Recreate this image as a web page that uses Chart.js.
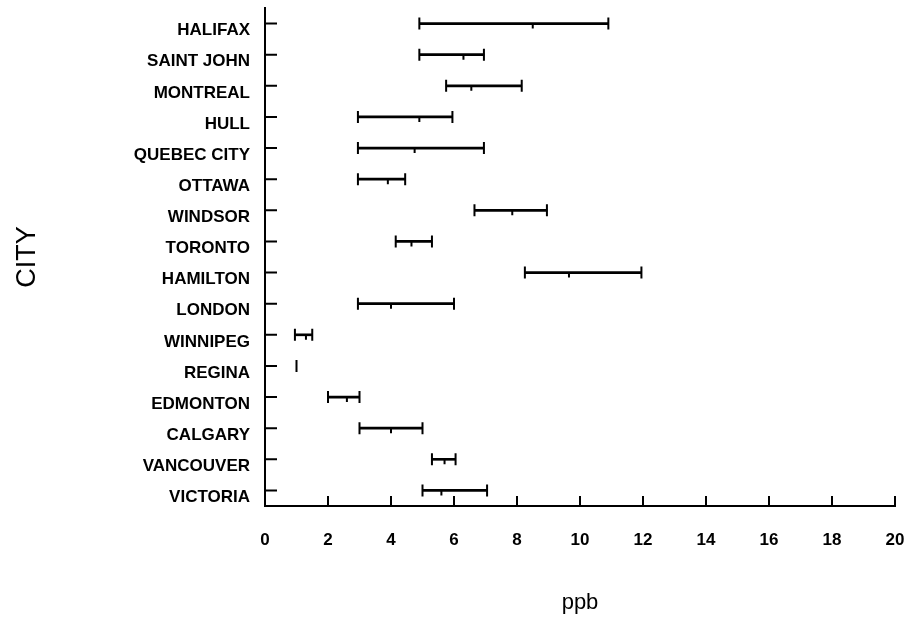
<!DOCTYPE html>
<html>
<head>
<meta charset="utf-8">
<script src="https://cdn.jsdelivr.net/npm/chart.js@4"></script>
<style>
  html, body { margin: 0; padding: 0; background: #fff; }
  #wrap { width: 906px; height: 624px; }
</style>
</head>
<body>
<div id="wrap"><canvas id="rangeChart"></canvas></div>
<script>
const cities = ["HALIFAX", "SAINT JOHN", "MONTREAL", "HULL", "QUEBEC CITY", "OTTAWA", "WINDSOR", "TORONTO",
  "HAMILTON", "LONDON", "WINNIPEG", "REGINA", "EDMONTON", "CALGARY", "VANCOUVER", "VICTORIA"];
const lowValues = [4.9, 4.9, 5.75, 2.95, 2.95, 2.95, 6.65, 4.15, 8.25, 2.95, 0.95, 1.0, 2.0, 3.0, 5.3, 5.0];
const meanValues = [8.5, 6.3, 6.55, 4.9, 4.75, 3.9, 7.85, 4.65, 9.65, 4.0, 1.3, 1.0, 2.6, 4.0, 5.7, 5.6];
const highValues = [10.9, 6.95, 8.15, 5.95, 6.95, 4.45, 8.95, 5.3, 11.95, 6.0, 1.5, 1.0, 3.0, 5.0, 6.05, 7.05];
const xMin = 0;
const xMax = 20;
const xStep = 2;

// caps, mean marks and the inward axis ticks
const rangeMarks = {
  id: "rangeMarks",
  afterDatasetsDraw(chart) {
    const { ctx, chartArea, scales: { x, y } } = chart;
    ctx.save();
    ctx.strokeStyle = "#000";
    ctx.lineWidth = 2;
    ctx.beginPath();
    cities.forEach((c, i) => {
      const py = y.getPixelForValue(i);
      const x1 = x.getPixelForValue(lowValues[i]);
      const x2 = x.getPixelForValue(highValues[i]);
      const xm = x.getPixelForValue(meanValues[i]);
      ctx.moveTo(x1, py - 6); ctx.lineTo(x1, py + 6);
      if (x2 !== x1) { ctx.moveTo(x2, py - 6); ctx.lineTo(x2, py + 6); }
      if (xm !== x1 && xm !== x2) { ctx.moveTo(xm, py); ctx.lineTo(xm, py + 5); }
    });
    ctx.stroke();

    ctx.beginPath();
    y.ticks.forEach((t, i) => {
      const py = y.getPixelForTick(i);
      ctx.moveTo(chartArea.left, py); ctx.lineTo(chartArea.left + 12, py);
    });
    x.ticks.forEach((t, i) => {
      if (i === 0) return;
      const px = x.getPixelForTick(i);
      ctx.moveTo(px, chartArea.bottom); ctx.lineTo(px, chartArea.bottom - 10);
    });
    ctx.stroke();
    ctx.restore();
  }
};

new Chart(document.getElementById("rangeChart"), {
  type: "bar",
  data: {
    labels: cities,
    datasets: [{
      data: cities.map((c, i) => [lowValues[i], highValues[i]]),
      backgroundColor: "#000",
      borderWidth: 0,
      barThickness: 2,
    }],
  },
  options: {
    indexAxis: "y",
    responsive: true,
    maintainAspectRatio: false,
    animation: false,
    layout: { padding: { top: 8, right: 11, left: 0, bottom: 0 } },
    plugins: {
      legend: { display: false },
      tooltip: { enabled: false },
    },
    scales: {
      x: {
        type: "linear",
        min: xMin,
        max: xMax,
        afterFit: (s) => { s.height = 118; s.paddingLeft = 0; s.paddingRight = 0; },
        grid: { drawOnChartArea: false, drawTicks: false },
        border: { color: "#000", width: 2 },
        ticks: {
          stepSize: xStep,
          color: "#000",
          padding: 24,
          font: { family: "Liberation Sans", size: 17, weight: "bold" },
        },
        title: {
          display: true,
          text: "ppb",
          color: "#000",
          padding: { bottom: 8 },
          font: { family: "Liberation Sans", size: 22 },
        },
      },
      y: {
        afterFit: (s) => { s.width = 265; s.paddingTop = 0; s.paddingBottom = 0; },
        grid: { drawOnChartArea: false, drawTicks: false },
        border: { color: "#000", width: 2 },
        ticks: {
          color: "#000",
          padding: 15,
          labelOffset: 7,
          autoSkip: false,
          font: { family: "Liberation Sans", size: 17, weight: "bold" },
        },
        title: {
          display: true,
          text: "CITY",
          color: "#000",
          padding: { top: 11 },
          font: { family: "Liberation Sans", size: 27 },
        },
      },
    },
  },
  plugins: [rangeMarks],
});
</script>
</body>
</html>
